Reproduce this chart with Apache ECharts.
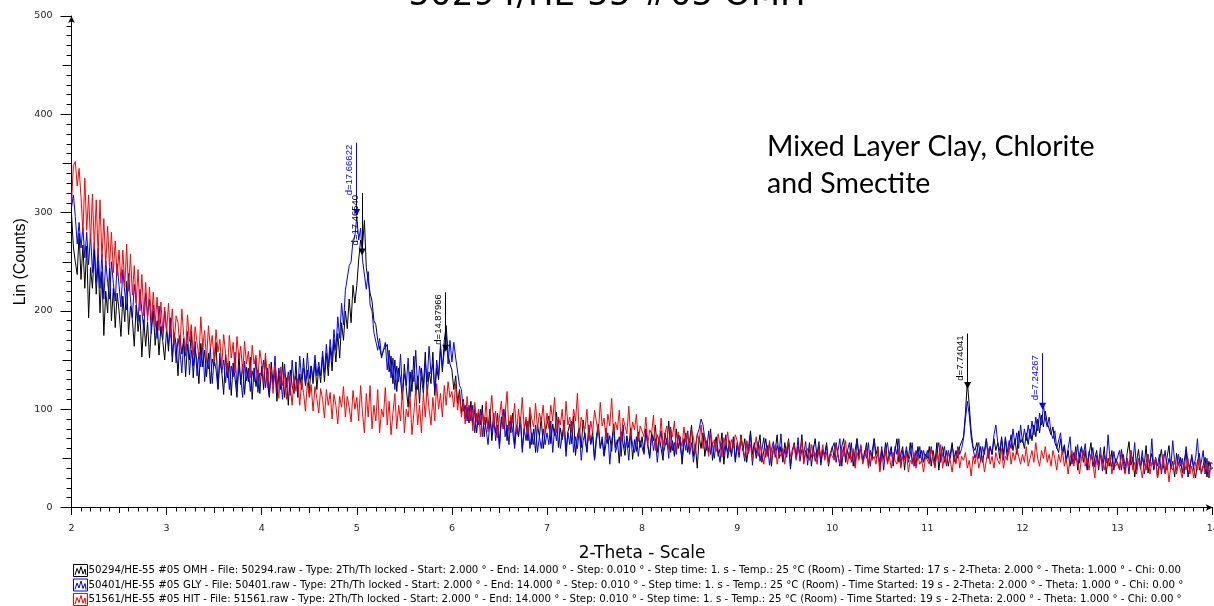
<!DOCTYPE html>
<html><head><meta charset="utf-8">
<script src="https://cdn.jsdelivr.net/npm/echarts@6/dist/echarts.min.js"></script>
<style>html,body{margin:0;padding:0;background:#fff;overflow:hidden}#c{width:1214px;height:606px}</style>
</head><body><div id="c"></div>
<script>
// 2-Theta sampling (degrees)
const START = 2.0;
const STEP = 0.02;

// 50294/HE-55 #05 OMH (black)
const omh = [
299,265,250,237,279,232,267,223,266,193,244,223,262,217,251,198,240,175,220,198,244,190,223,183,218,200,174,215,189,230,176,205,191,164,206,179,196,153,191,164,189,152,183,200,165,190,155,184,169,150,
182,159,191,148,177,166,134,175,156,172,133,166,150,179,132,160,149,126,167,143,160,133,157,126,151,144,168,121,150,138,115,156,132,149,114,147,131,112,157,125,146,115,143,128,153,110,142,123,140,116,
144,120,152,128,112,148,124,140,108,136,120,148,112,132,104,140,124,116,148,112,136,120,152,124,140,116,144,126,150,120,143,127,154,128,157,134,163,139,171,148,177,152,188,170,200,182,212,188,226,208,
226,252,272,266,292,244,246,218,210,190,186,170,172,154,160,158,166,138,154,126,150,118,142,130,110,146,122,102,138,118,154,114,134,106,142,122,158,114,138,126,158,114,142,130,162,138,170,185,155,146,
140,120,134,106,120,96,110,90,102,86,108,84,100,76,96,84,104,72,92,80,100,68,88,76,96,64,92,80,100,68,88,76,96,64,84,72,92,60,80,88,68,96,64,80,56,84,72,92,60,76,
77,93,65,85,73,97,61,81,69,89,57,77,85,65,93,53,73,81,61,89,69,57,81,65,77,49,73,85,61,69,53,81,65,73,57,85,61,69,45,77,65,53,73,61,81,49,69,57,77,61,
72,56,80,64,52,76,68,84,56,72,60,48,76,64,88,56,68,52,80,60,72,44,64,76,56,68,84,52,64,40,72,60,76,52,68,56,80,48,64,72,52,60,76,44,64,56,68,52,72,48,
66,54,74,58,70,46,62,78,54,66,50,62,74,46,58,70,54,66,42,62,58,74,50,62,46,66,54,70,42,58,66,50,62,54,74,46,58,50,66,42,58,70,50,62,46,58,54,66,42,54,
62,50,66,54,42,62,70,46,58,50,66,42,58,70,50,62,46,54,66,42,58,50,70,54,62,38,58,50,66,46,54,62,42,58,70,46,54,62,38,58,50,66,46,54,42,62,50,58,46,54,
50,62,42,58,46,66,38,54,62,46,58,42,54,66,46,58,50,62,60,72,96,128,104,78,62,58,66,50,62,46,58,70,50,62,54,70,58,66,50,72,54,70,50,62,74,58,70,54,78,66,
70,60,76,64,80,68,84,72,90,76,94,82,98,86,84,74,82,66,66,56,70,54,62,46,58,42,54,46,62,38,54,62,46,58,38,54,66,42,50,58,38,54,46,62,34,50,42,58,38,50,
51,39,59,47,35,55,67,43,51,31,47,59,39,51,43,63,35,47,55,39,51,30,47,59,43,35,51,63,39,47,31,55,43,51,35,47,59,31,43,51,39,30,47,55,35,43,51,31,47,39,
40];

// 50401/HE-55 #05 GLY (blue)
const gly = [
305,318,296,268,290,264,285,254,280,247,279,239,270,229,264,223,258,212,251,229,212,250,228,210,248,226,204,242,219,201,238,212,193,227,208,189,222,200,181,218,195,212,177,206,191,172,205,186,171,200,
180,165,193,154,178,147,172,160,137,169,154,179,135,160,144,169,134,158,143,167,128,153,141,162,126,151,140,120,157,137,150,127,147,120,144,133,158,118,143,131,112,149,129,142,118,139,128,152,117,137,
134,150,122,142,114,138,126,154,118,142,130,110,146,122,138,114,150,126,134,118,154,130,142,126,157,131,144,130,155,134,148,134,159,137,166,143,171,150,181,160,194,172,208,186,221,222,246,250,272,276,
296,272,284,252,250,222,240,206,200,178,176,160,172,152,150,168,140,160,132,152,120,144,128,156,116,136,124,152,112,140,128,160,120,144,132,116,148,128,164,136,146,118,150,134,166,142,158,178,146,170,
148,168,152,150,124,120,98,104,88,104,88,104,76,96,84,100,72,92,80,64,88,76,96,68,84,60,88,100,72,84,64,92,76,60,84,72,92,56,80,68,88,60,76,64,84,56,72,60,80,64,
76,64,88,56,80,68,92,60,72,84,52,76,64,88,56,72,60,80,48,68,76,56,84,64,72,48,68,80,60,72,52,64,76,44,68,80,56,64,72,52,84,60,68,48,76,64,56,72,52,68,
66,54,78,62,50,74,58,70,46,66,78,54,62,70,50,82,58,66,54,74,62,50,70,58,78,54,66,46,62,74,80,90,84,70,58,78,54,66,50,70,58,46,66,54,74,50,62,54,70,46,
63,51,71,59,47,67,55,75,43,63,55,67,47,59,71,51,63,43,59,67,51,63,55,75,47,59,51,67,39,59,63,51,71,47,59,55,67,43,59,51,63,47,55,67,43,59,51,63,47,55,
54,66,46,58,70,42,62,50,58,66,46,58,42,70,54,62,46,58,50,66,42,58,70,50,54,46,62,38,58,66,50,58,46,62,54,70,42,58,50,62,46,54,66,42,58,50,62,46,58,50,
58,46,62,50,42,58,66,46,54,62,42,58,50,62,54,46,62,54,60,70,90,108,94,72,60,50,58,66,46,62,54,70,50,62,54,74,84,66,58,70,48,72,56,68,60,80,64,76,60,84,
66,80,68,84,70,88,74,92,78,96,84,104,90,82,92,76,70,78,60,62,76,56,64,48,60,72,44,56,48,64,45,61,53,65,41,57,49,61,41,53,45,61,37,53,45,74,49,41,57,45,
46,58,38,54,42,50,34,58,46,66,38,50,42,58,34,46,54,42,70,38,50,42,54,34,46,58,38,50,42,68,46,38,54,42,50,34,62,46,38,54,42,50,70,38,46,58,34,50,30,46,
44];

// 51561/HE-55 #05 HIT (red)
const hit = [
310,348,352,327,345,316,280,335,282,318,270,319,264,313,257,313,253,294,247,286,245,280,239,271,236,262,228,262,224,268,220,258,216,246,208,242,200,237,195,229,190,224,190,219,185,214,180,209,179,204,
179,208,173,202,166,195,188,161,202,175,159,196,169,186,155,184,168,153,194,163,180,149,185,162,175,148,181,158,171,143,176,157,138,175,152,168,137,174,151,164,137,169,146,159,132,165,146,155,131,160,
147,128,157,122,146,135,116,145,130,111,143,124,137,110,135,124,104,133,118,131,104,129,117,98,127,112,125,98,123,111,96,121,110,91,120,104,117,90,115,104,85,113,102,123,92,113,102,87,119,100,
112,88,124,96,76,116,92,124,80,104,88,120,76,100,92,122,84,108,74,96,116,80,104,88,122,76,100,92,112,74,96,120,84,104,76,116,92,122,100,84,112,88,126,100,116,92,124,104,128,112,
118,102,126,99,115,92,108,85,113,89,102,78,107,87,100,72,96,84,108,77,94,114,82,98,71,92,108,80,96,118,78,94,86,106,75,100,84,112,80,92,74,102,90,82,106,80,96,88,104,76,
96,80,104,88,112,76,92,84,100,72,108,84,92,76,100,88,116,72,92,84,80,100,68,88,76,99,87,75,107,83,91,71,95,83,111,75,87,79,99,67,91,83,75,103,71,87,79,95,67,83,
84,72,92,64,79,75,94,58,74,66,91,63,75,83,59,80,72,88,57,77,70,62,82,66,75,59,79,71,55,75,68,84,60,72,64,52,76,64,69,57,75,63,51,71,63,77,57,69,61,74,
68,56,72,60,52,68,56,64,48,60,72,52,64,56,44,60,52,68,48,56,64,44,56,52,60,44,60,68,52,56,64,48,60,52,68,44,56,60,48,64,52,56,44,60,52,64,48,56,44,56,
56,48,64,52,44,60,52,68,44,56,48,60,40,56,48,64,44,52,60,40,56,48,52,44,60,36,52,48,60,44,52,40,56,48,44,60,40,52,48,56,36,48,44,56,40,52,44,48,36,52,
52,44,60,48,40,56,48,64,40,52,44,56,48,36,52,44,60,40,52,48,56,40,48,32,52,44,56,40,48,52,36,48,60,44,52,40,56,48,44,60,40,52,48,64,44,56,48,60,52,44,
54,46,62,42,50,58,46,66,50,42,58,50,62,46,54,42,58,50,38,54,46,58,42,50,34,50,58,42,54,46,34,50,58,42,50,38,54,46,30,50,42,54,46,38,50,42,54,34,46,42,
46,38,54,42,34,50,42,58,38,46,34,50,42,30,46,38,54,34,46,42,50,30,42,38,54,34,46,26,42,38,50,34,46,38,30,46,38,50,34,42,30,46,38,50,34,42,38,46,30,42,
40];

// Peak markers (2-Theta, marker count, top of marker line, label)
const omhPeakX = [5.056, 5.935, 11.423];
const omhPeakY = [260, 162, 124];
const omhPeakTop = [320, 219, 177];
const omhPeakLabel = ['d=17.46540', 'd=14.87966', 'd=7.74041'];
const glyPeakX = [4.998, 12.211];
const glyPeakY = [300, 103];
const glyPeakTop = [371, 157];
const glyPeakLabel = ['d=17.66622', 'd=7.24267'];

const seriesNames = ['50294/HE-55 #05 OMH', '50401/HE-55 #05 GLY', '51561/HE-55 #05 HIT'];
const legendDetails = [
  ' - File: 50294.raw - Type: 2Th/Th locked - Start: 2.000 ° - End: 14.000 ° - Step: 0.010 ° - Step time: 1. s - Temp.: 25 °C (Room) - Time Started: 17 s - 2-Theta: 2.000 ° - Theta: 1.000 ° - Chi: 0.00',
  ' - File: 50401.raw - Type: 2Th/Th locked - Start: 2.000 ° - End: 14.000 ° - Step: 0.010 ° - Step time: 1. s - Temp.: 25 °C (Room) - Time Started: 19 s - 2-Theta: 2.000 ° - Theta: 1.000 ° - Chi: 0.00 °',
  ' - File: 51561.raw - Type: 2Th/Th locked - Start: 2.000 ° - End: 14.000 ° - Step: 0.010 ° - Step time: 1. s - Temp.: 25 °C (Room) - Time Started: 19 s - 2-Theta: 2.000 ° - Theta: 1.000 ° - Chi: 0.00 °'
];
const titleText = '50294/HE-55 #05 OMH';
const noteText = 'Mixed Layer Clay, Chlorite\nand Smectite';
const xName = '2-Theta - Scale';
const yName = 'Lin (Counts)';

const colors = ['#000000', '#0000ff', '#ff0000'];
const toPairs = arr => arr.map((v, i) => [+(START + i * STEP).toFixed(3), v]);

function peakMarks(xs, ys, tops, labels, color) {
  return {
    silent: true,
    animation: false,
    symbol: ['triangle', 'none'],
    symbolSize: [7, 7],
    lineStyle: { color: color, width: 1, type: 'solid' },
    label: {
      show: true, position: 'insideEndTop', formatter: '{b}',
      fontFamily: 'Liberation Sans', fontSize: 9.5, color: color, distance: 2
    },
    emphasis: { disabled: true },
    data: xs.map((x, i) => [
      { coord: [x, ys[i]], name: labels[i], itemStyle: { color: color } },
      { coord: [x, tops[i]] }
    ])
  };
}

const chart = echarts.init(document.getElementById('c'), null, { renderer: 'canvas' });
const axisBlack = { color: '#000', width: 1 };
chart.setOption({
  animation: false,
  backgroundColor: '#fff',
  title: {
    text: titleText, left: 'center', top: -26,
    textStyle: { fontFamily: 'DejaVu Sans', fontSize: 34, fontWeight: 'normal', color: '#000' }
  },
  grid: { left: 71.5, right: 1.3, top: 16, bottom: 98.5, containLabel: false, outerBoundsMode: 'none' },
  xAxis: [{
    type: 'value', min: 2, max: 14, interval: 1,
    axisLine: { show: true, onZero: false, lineStyle: axisBlack, symbol: ['none', 'arrow'], symbolSize: [5, 7] },
    axisTick: { show: true, length: 7.5, lineStyle: axisBlack },
    minorTick: { show: true, splitNumber: 10, length: 4, lineStyle: axisBlack },
    axisLabel: { fontFamily: 'DejaVu Sans', fontSize: 9.5, color: '#222', margin: 16 },
    splitLine: { show: false },
    name: xName, nameLocation: 'middle', nameGap: 38, nameMoveOverlap: false,
    nameTextStyle: { fontFamily: 'DejaVu Sans', fontSize: 17, color: '#000' }
  }, {
    type: 'value', min: 2, max: 14, interval: 0.5, position: 'bottom',
    axisLine: { show: false }, axisTick: { show: true, length: 5.5, lineStyle: axisBlack },
    axisLabel: { show: false }, splitLine: { show: false }
  }],
  yAxis: [{
    type: 'value', min: 0, max: 500, interval: 100,
    axisLine: { show: true, onZero: false, lineStyle: axisBlack, symbol: ['none', 'arrow'], symbolSize: [5, 7] },
    axisTick: { show: true, length: 11, lineStyle: axisBlack },
    minorTick: { show: true, splitNumber: 10, length: 5, lineStyle: axisBlack },
    axisLabel: { fontFamily: 'DejaVu Sans', fontSize: 9.5, color: '#222', margin: 19 },
    splitLine: { show: false },
    name: yName, nameLocation: 'middle', nameGap: 43, nameRotate: 90, nameMoveOverlap: false,
    nameTextStyle: { fontFamily: 'Liberation Sans', fontSize: 16, color: '#000' }
  }, {
    type: 'value', min: 0, max: 500, interval: 50, position: 'left',
    axisLine: { show: false }, axisTick: { show: true, length: 9, lineStyle: axisBlack },
    axisLabel: { show: false }, splitLine: { show: false }
  }],
  legend: {
    orient: 'vertical', left: 73, top: 564, padding: 0, height: 60,
    itemWidth: 14, itemHeight: 12, itemGap: 1.5,
    icon: 'path://M0,0H14V12H0Z M1.5,10.5L3.5,4L5.5,9L7.5,2L9.5,9.5L11.5,4.5L12.5,10.5',
    itemStyle: { color: '#fff', borderWidth: 1 },
    textStyle: { fontFamily: 'DejaVu Sans', fontSize: 10.2, lineHeight: 12, color: '#000', padding: [0, 0, 0, -4] },
    selectedMode: false,
    formatter: name => name + legendDetails[seriesNames.indexOf(name)],
    data: seriesNames.map((n, i) => ({ name: n, itemStyle: { color: '#fff', borderColor: colors[i], borderWidth: 1 } }))
  },
  graphic: [{
    type: 'text', left: 767, top: 128, silent: true,
    style: { text: noteText, font: '28.5px Lato', lineHeight: 37, fill: '#000' }
  }],
  series: [
    { name: seriesNames[0], type: 'line', data: toPairs(omh), showSymbol: false, symbol: 'none',
      lineStyle: { color: colors[0], width: 1 }, itemStyle: { color: colors[0] },
      markLine: peakMarks(omhPeakX, omhPeakY, omhPeakTop, omhPeakLabel, colors[0]) },
    { name: seriesNames[1], type: 'line', data: toPairs(gly), showSymbol: false, symbol: 'none',
      lineStyle: { color: colors[1], width: 1 }, itemStyle: { color: colors[1] },
      markLine: peakMarks(glyPeakX, glyPeakY, glyPeakTop, glyPeakLabel, colors[1]) },
    { name: seriesNames[2], type: 'line', data: toPairs(hit), showSymbol: false, symbol: 'none',
      lineStyle: { color: colors[2], width: 1 }, itemStyle: { color: colors[2] } }
  ]
});
</script></body></html>
